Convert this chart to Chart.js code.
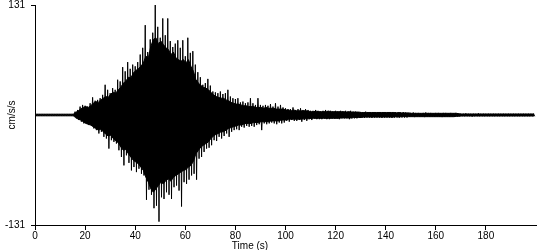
<!DOCTYPE html>
<html>
<head>
<meta charset="utf-8">
<script src="https://cdn.jsdelivr.net/npm/chart.js@4/dist/chart.umd.min.js"></script>
<style>
html,body{margin:0;padding:0;background:#fff;}
#wrap{width:550px;height:250px;}
</style>
</head>
<body>
<div id="wrap"><canvas id="c" width="550" height="250"></canvas></div>
<script>
// Start time (s) of each 1-second bin
const binStart = [];
for (let s = 0; s < 200; s++) binStart.push(s);

// Peak positive acceleration (cm/s/s) in each 1-second bin
const peakMax = [
  1,1,1,1,1,1,1,1,1,1, 1,1,1,1,1,1,4,6,10,12,
  11,10,14,21,17,18,20,24,36,30, 26,32,30,42,40,57,52,63,55,60,
  58,63,72,80,107,75,90,98,131,105, 92,115,95,115,88,81,85,89,80,89,
  70,92,74,76,60,51,45,36,38,43, 35,28,27,26,28,25,26,30,22,20,
  19,20,15,16,14,15,20,14,12,20, 12,11,12,11,13,10,14,10,12,9,
  8,7,7,9,6,7,8,6,7,6, 5,5,6,5,4,5,6,5,5,4,
  5,4,5,4,5,4,5,4,4,3.5, 3.5,3,4,3.5,3,3.5,3,3.5,3,3.5,
  3,3.5,3,3,3.5,3,3,3.5,3,2.5, 2.5,3,2.5,2.5,2,2.5,3,2.5,2.5,2,
  2.5,2.5,2,2.5,2.5,2,2.5,2,2.5,1.5, 1.5,1.5,2,1.5,1.5,1.5,1.5,2,1.5,1.5,
  1.5,1.5,1.5,1.5,1.5,1.5,1.5,1.5,1.5,1.5, 1.5,1.5,1.5,1.5,1.5,1.5,1.5,1.5,1.5,1.5
];
// Peak negative acceleration (cm/s/s) in each 1-second bin
const peakMin = [
  -1,-1,-1,-1,-1,-1,-1,-1,-1,-1, -1,-1,-1,-1,-1,-1,-4,-6,-8,-10,
  -9,-12,-13,-16,-18,-22,-20,-26,-28,-40, -30,-32,-34,-42,-50,-60,-48,-57,-66,-62,
  -68,-64,-70,-72,-101,-89,-95,-111,-108,-127, -98,-100,-92,-95,-100,-86,-84,-90,-109,-80,
  -82,-77,-72,-70,-77,-52,-50,-44,-40,-39, -36,-30,-31,-26,-28,-25,-22,-26,-20,-18,
  -17,-18,-14,-15,-13,-14,-13,-14,-12,-11, -18,-10,-11,-10,-9,-10,-11,-9,-10,-9,
  -7,-8,-6,-7,-7,-6,-8,-6,-7,-5, -6,-4,-5,-5,-5,-4,-5,-5,-4,-4,
  -4,-5,-4,-4,-4,-5,-4,-4,-4,-3, -3,-3.5,-3,-3,-3.5,-3,-3,-3,-3.5,-3,
  -3,-3,-3.5,-3,-3,-3,-3,-3,-3,-2, -2,-2.5,-2,-2,-2,-2.5,-2,-2,-2,-2,
  -2,-2,-2.5,-2,-2,-2,-2,-2,-2,-1.5, -1.5,-1.5,-1.5,-1.5,-2,-1.5,-1.5,-1.5,-1.5,-1.5,
  -1.5,-1.5,-1.5,-1.5,-1.5,-1.5,-1.5,-1.5,-1.5,-1.5, -1.5,-1.5,-1.5,-1.5,-1.5,-1.5,-1.5,-1.5,-1.5,-1.5
];

// Upper edge of the solid black core of the trace in each bin (cm/s/s)
const coreUpper = [
  1,1,1,1,1,1,1,1,1,1, 1,1,1,1,1,1,3,5,7,9,
  10,9,11,14,16,15,18,20,22,21, 25,27,26,30,33,38,40,45,44,50,
  53,55,58,62,70,68,82,90,92,85, 88,84,80,78,72,75,68,66,64,66,
  62,66,58,52,42,38,35,33,32,30, 27,24,22,21,20,20,18,17,15,14,
  13,13,12,11,11,10,10,10,9,9, 9,8,9,8,8,8,7,7,7,7,
  6,6,5,6,5,5,5,5,5,4.5, 4,4,4.5,4,4,4,4,4.5,4,4,
  4,4,4,4,3.5,4,3.5,3.5,3.5,3.5, 3,3,3,3,3,3,3,3,3,3,
  3,3,3,3,2.5,3,2.5,2.5,2.5,2.5, 2,2,2,2,2,2,2,2,2,2,
  2,2,2,2,2,2,2,2,2,1.5, 1.2,1.2,1.2,1.2,1.2,1.2,1.2,1.2,1.2,1.2,
  1.2,1.2,1.2,1.2,1.2,1.2,1.2,1.2,1.2,1.2, 1.2,1.2,1.2,1.2,1.2,1.2,1.2,1.2,1.2,1.2
];
// Lower edge of the solid black core of the trace in each bin (cm/s/s)
const coreLower = [
  -1,-1,-1,-1,-1,-1,-1,-1,-1,-1, -1,-1,-1,-1,-1,-1,-3,-5,-6,-8,
  -10,-11,-12,-14,-16,-18,-17,-20,-23,-25, -24,-28,-31,-33,-38,-42,-41,-46,-50,-54,
  -56,-58,-62,-66,-74,-80,-88,-92,-88,-84, -80,-82,-78,-76,-79,-74,-72,-70,-68,-66,
  -65,-62,-60,-55,-46,-42,-38,-36,-34,-32, -28,-25,-23,-22,-20,-20,-18,-16,-15,-14,
  -13,-12,-12,-11,-10,-10,-10,-9,-9,-9, -8,-8,-8,-8,-7,-7,-7,-7,-6,-6,
  -6,-5,-5,-5,-5,-5,-5,-4.5,-4.5,-4.5, -4,-4,-4,-4,-4,-4,-4,-4,-4,-4,
  -4,-4,-3.5,-3.5,-3.5,-3.5,-3.5,-3,-3,-3, -3,-2.5,-2.5,-2.5,-2.5,-2.5,-2.5,-2.5,-2.5,-2.5,
  -2.5,-2.5,-2.5,-2.5,-2,-2.5,-2,-2,-2,-2, -2,-2,-2,-2,-2,-2,-2,-2,-2,-2,
  -2,-2,-2,-2,-2,-2,-2,-2,-1.5,-1.5, -1.2,-1.2,-1.2,-1.2,-1.2,-1.2,-1.2,-1.2,-1.2,-1.2,
  -1.2,-1.2,-1.2,-1.2,-1.2,-1.2,-1.2,-1.2,-1.2,-1.2, -1.2,-1.2,-1.2,-1.2,-1.2,-1.2,-1.2,-1.2,-1.2,-1.2
];

const yTickValues = [-131, 131];
const xTickValues = [0, 20, 40, 60, 80, 100, 120, 140, 160, 180];
const yTitle = 'cm/s/s';
const xTitle = 'Time (s)';

// Spike trace: positive peak then negative peak within each bin
const trace = [];
for (let i = 0; i < binStart.length; i++) {
  trace.push({x: binStart[i], y: peakMax[i]});
  trace.push({x: binStart[i] + 0.5, y: peakMin[i]});
}
const upper = binStart.map((t, i) => ({x: t + 0.25, y: coreUpper[i]}));
const lower = binStart.map((t, i) => ({x: t + 0.25, y: coreLower[i]}));

const FONT = '"Liberation Sans", Arial, sans-serif';

const xTitlePlugin = {
  id: 'xTitle',
  afterDraw(chart) {
    const ctx = chart.ctx;
    ctx.save();
    ctx.fillStyle = '#000';
    ctx.font = '10px ' + FONT;
    ctx.textAlign = 'center';
    ctx.textBaseline = 'middle';
    ctx.fillText(xTitle, 250, 246);
    ctx.restore();
  }
};

new Chart(document.getElementById('c'), {
  type: 'line',
  data: {
    datasets: [
      {data: upper, borderColor: '#000', borderWidth: 1, pointRadius: 0, tension: 0, backgroundColor: '#000', fill: '+1'},
      {data: lower, borderColor: '#000', borderWidth: 1, pointRadius: 0, tension: 0, fill: false},
      {data: trace, borderColor: '#000', borderWidth: 1, pointRadius: 0, tension: 0, fill: false}
    ]
  },
  plugins: [xTitlePlugin],
  options: {
    responsive: false,
    animation: false,
    events: [],
    layout: {padding: {top: 5, right: 14, left: 0, bottom: 0}},
    plugins: {legend: {display: false}, tooltip: {enabled: false}},
    scales: {
      x: {
        type: 'linear',
        min: 0, max: 200,
        afterBuildTicks: s => { s.ticks = xTickValues.map(v => ({value: v})); },
        afterFit: s => { s.height = 25; s.paddingLeft = 0; s.paddingRight = 0; },
        grid: {display: true, drawOnChartArea: false, drawTicks: true, tickLength: 5, color: '#000'},
        border: {display: true, color: '#000', width: 1},
        ticks: {color: '#000', font: {family: FONT, size: 10}, padding: 0, maxRotation: 0},
        title: {display: false}
      },
      y: {
        type: 'linear',
        min: -131, max: 131,
        afterBuildTicks: s => { s.ticks = yTickValues.map(v => ({value: v})); },
        afterFit: s => { s.width = 35; s.paddingTop = 0; s.paddingBottom = 0; },
        grid: {display: true, drawOnChartArea: false, drawTicks: true, tickLength: 4, color: '#000'},
        border: {display: true, color: '#000', width: 1},
        ticks: {color: '#000', font: {family: FONT, size: 10}, padding: 6},
        title: {display: true, text: yTitle, color: '#000', font: {family: FONT, size: 10}, padding: {top: 6, bottom: 0}}
      }
    }
  }
});
</script>
</body>
</html>
